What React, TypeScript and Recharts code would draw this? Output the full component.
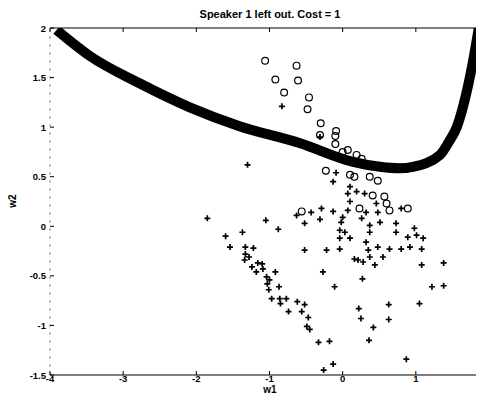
import { ComposedChart, Line, Scatter, XAxis, YAxis, ReferenceLine } from "recharts";

const X_TICKS = [-4, -3, -2, -1, 0, 1];
const Y_TICKS = [-1.5, -1, -0.5, 0, 0.5, 1, 1.5, 2];

// decision boundary (thick curve), [w1, w2]
const boundary: [number, number][] = [
  [-3.91, 1.98], [-3.46, 1.72], [-2.77, 1.44], [-2.09, 1.2], [-1.41, 1.01],
  [-0.59, 0.84], [0.14, 0.65], [0.51, 0.6], [0.78, 0.585], [0.96, 0.6],
  [1.33, 0.72], [1.45, 0.85], [1.56, 1.0], [1.69, 1.34], [1.8, 1.74], [1.86, 2.0],
];

// 'o' samples
const circles: [number, number][] = [
  [-1.06, 1.67], [-0.63, 1.62], [-0.92, 1.48], [-0.61, 1.47], [-0.8, 1.35], [-0.46, 1.3],
  [-0.48, 1.18], [-0.3, 1.04], [-0.09, 0.96], [-0.1, 0.91], [-0.1, 0.83], [-0.31, 0.92],
  [0.0, 0.75], [0.07, 0.77], [0.19, 0.72], [0.26, 0.68], [-0.23, 0.56], [0.1, 0.52],
  [0.16, 0.5], [0.37, 0.5], [0.48, 0.46], [0.41, 0.31], [0.57, 0.3], [0.6, 0.23],
  [0.64, 0.16], [0.23, 0.18], [0.89, 0.18], [-0.56, 0.15],
];

// '+' samples
const pluses: [number, number][] = [
  [-0.83, 1.21], [-1.3, 0.62], [-0.31, 0.9], [-0.11, 0.7], [-0.09, 0.54], [-0.13, 0.45],
  [0.1, 0.4], [0.19, 0.35], [0.3, 0.33], [0.07, 0.33], [0.1, 0.25], [0.46, 0.23],
  [0.48, 0.14], [0.32, 0.14], [0.8, 0.18], [-0.63, 0.11], [-0.43, 0.14], [-0.29, 0.18],
  [-0.13, 0.15], [0.07, 0.16], [0.26, 0.08], [0.0, 0.09], [-0.52, 0.03], [-0.31, 0.07],
  [-0.02, 0.04], [0.51, 0.04], [0.73, 0.03], [0.37, 0.01], [0.98, -0.02], [-0.04, -0.04],
  [0.03, -0.06], [0.37, -0.06], [0.73, -0.06], [0.1, -0.12], [-0.04, -0.12], [0.89, -0.11],
  [1.01, -0.09], [1.1, -0.12], [0.32, -0.16], [0.48, -0.21], [0.64, -0.23], [0.8, -0.23],
  [0.92, -0.21], [1.08, -0.23], [-0.52, -0.24], [-0.22, -0.24], [-0.04, -0.23], [0.35, -0.24],
  [0.16, -0.33], [0.37, -0.31], [0.21, -0.34], [0.28, -0.36], [0.44, -0.39], [0.55, -0.31],
  [0.27, -0.53], [1.08, -0.39], [1.38, -0.37], [1.22, -0.61], [1.38, -0.6], [-0.27, -0.46],
  [-0.11, -0.61], [0.22, -0.83], [0.25, -0.93], [0.42, -1.02], [0.36, -1.15], [0.63, -0.79],
  [0.63, -0.94], [1.05, -0.78], [0.87, -1.34], [-0.33, -1.17], [-0.18, -1.16], [-0.13, -1.39],
  [-0.26, -1.45], [-0.45, -1.04], [-0.49, -1.01], [-0.47, -0.92], [-0.56, -0.86], [-0.74, -0.86],
  [-0.52, -0.79], [-0.62, -0.76], [-0.85, -0.78], [-0.77, -0.73], [-0.86, -0.73], [-0.97, -0.73],
  [-0.87, -0.61], [-1.01, -0.64], [-1.03, -0.58], [-1.0, -0.54], [-1.04, -0.51], [-0.92, -0.46],
  [-1.18, -0.46], [-1.09, -0.43], [-1.24, -0.41], [-1.1, -0.38], [-1.16, -0.37], [-1.34, -0.34],
  [-1.28, -0.31], [-1.33, -0.28], [-1.33, -0.21], [-1.22, -0.22], [-1.54, -0.21], [-1.6, -0.1],
  [-1.37, -0.06], [-0.88, -0.03], [-1.05, 0.06], [-1.85, 0.08],
];

const toXY = (pts: [number, number][]) => pts.map(([x, y]) => ({ x, y }));

const FONT = "'Liberation Sans', Arial, Helvetica, sans-serif";
const PLOT_H = 347;

const PlusMark = (p: any) => (
  <path
    d={`M${p.cx - 3},${p.cy}H${p.cx + 3}M${p.cx},${p.cy - 3}V${p.cy + 3}`}
    stroke="#000"
    strokeWidth={1.7}
    fill="none"
  />
);

const RingMark = (p: any) => (
  <circle cx={p.cx} cy={p.cy} r={3.4} fill="none" stroke="#000" strokeWidth={1.2} />
);

const XTick = ({ x, y, payload }: any) => (
  <g>
    <line x1={x} x2={x} y1={y} y2={y - 4} stroke="#000" />
    <line x1={x} x2={x} y1={y - PLOT_H} y2={y - PLOT_H + 4} stroke="#000" />
    <text x={x} y={y + 7} textAnchor="middle" fontSize={9.5} fontWeight="bold" fontFamily={FONT} fill="#000">
      {payload.value}
    </text>
  </g>
);

const YTick = ({ x, y, payload }: any) => (
  <g>
    <line x1={x + 4} x2={x + 8} y1={y} y2={y} stroke="#000" />
    <text x={x} y={y + 3.5} textAnchor="end" fontSize={9.5} fontWeight="bold" fontFamily={FONT} fill="#000">
      {payload.value}
    </text>
  </g>
);

export default function App() {
  return (
    <div style={{ position: "relative", margin: -8, width: 484, height: 402, overflow: "hidden", background: "#fff" }}>
      <div
        style={{
          position: "absolute", left: 0, width: 540, top: 8, textAlign: "center",
          fontFamily: FONT, fontSize: 11, fontWeight: "bold", lineHeight: "12px",
        }}
      >
        Speaker 1 left out. Cost = 1
      </div>
      <div
        style={{
          position: "absolute", left: 0, width: 540, top: 384, textAlign: "center",
          fontFamily: FONT, fontSize: 10, fontWeight: "bold", lineHeight: "12px",
        }}
      >
        w1
      </div>
      <div
        style={{
          position: "absolute", left: 13, top: 201, transform: "translate(-50%, -50%) rotate(-90deg)",
          fontFamily: FONT, fontSize: 10, fontWeight: "bold", lineHeight: "12px",
        }}
      >
        w2
      </div>
      <ComposedChart width={496} height={402} margin={{ top: 28, right: 7, bottom: 0, left: 0 }}>
        <XAxis
          type="number"
          dataKey="x"
          domain={[-4, 2]}
          ticks={X_TICKS}
          allowDataOverflow
          height={27}
          tickSize={0}
          tickMargin={0}
          tick={<XTick />}
          axisLine={{ stroke: "#000", strokeWidth: 1.2 }}
        />
        <YAxis
          type="number"
          dataKey="y"
          domain={[-1.5, 2]}
          ticks={Y_TICKS}
          allowDataOverflow
          width={50}
          tickSize={0}
          tickMargin={4}
          tick={<YTick />}
          axisLine={{ stroke: "#888", strokeDasharray: "3 5" }}
        />
        <ReferenceLine y={2} stroke="#000" strokeWidth={1.2} />
        <Line
          data={toXY(boundary)}
          dataKey="y"
          type="monotone"
          stroke="#000"
          strokeWidth={10}
          dot={false}
          isAnimationActive={false}
        />
        <Scatter data={toXY(circles)} shape={RingMark} isAnimationActive={false} />
        <Scatter data={toXY(pluses)} shape={PlusMark} isAnimationActive={false} />
      </ComposedChart>
    </div>
  );
}
